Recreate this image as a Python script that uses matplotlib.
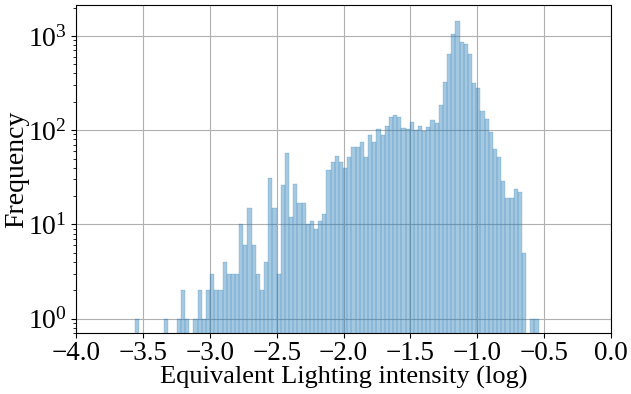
import numpy as np
import matplotlib
matplotlib.use('Agg')
from matplotlib import pyplot as plt

## bin range and counts (97 bins)
lo, hi = -3.560, -0.540
counts = [1, 0, 0, 0, 0, 0, 0, 1, 0, 0,
          1, 2, 1, 0, 1, 2, 1, 2, 3, 2,
          2, 4, 3, 3, 3, 10, 6, 15, 6, 3,
          2, 4, 31, 15, 3, 26, 57, 12, 27, 17,
          17, 10, 11, 9, 11, 13, 38, 46, 53, 46,
          40, 52, 67, 66, 75, 52, 88, 75, 102, 88,
          110, 137, 144, 137, 105, 102, 121, 100, 112, 97,
          108, 128, 118, 184, 322, 640, 1060, 1450, 870, 830,
          650, 315, 278, 158, 131, 95, 63, 52, 29, 19,
          19, 24, 22, 5, 0, 1, 1]
xticks = [-4.0, -3.5, -3.0, -2.5, -2.0, -1.5, -1.0, -0.5, 0.0]

plt.rcParams['font.family'] = ['Liberation Serif', 'DejaVu Serif']
plt.rcParams['mathtext.fontset'] = 'stix'

edges = np.linspace(lo, hi, len(counts) + 1)
centers = (edges[:-1] + edges[1:]) / 2

fig = plt.figure(figsize=(6.31, 3.94), dpi=100)
ax = fig.add_axes([0.121, 0.154, 0.847, 0.833])
ax.set_axisbelow(True)
ax.grid(True, color='#b0b0b0', linewidth=0.8)

ax.hist(centers, bins=edges, weights=counts, color='C0', alpha=0.4,
        edgecolor='C0', linewidth=0.35, log=True)

ax.set_xlim(-4, 0)
ax.set_ylim(0.7, 2120)
ax.set_xticks(xticks)
ax.tick_params(labelsize=20)
ax.tick_params(axis='x', labelsize=19.5, pad=2)
ax.set_xlabel('Equivalent Lighting intensity (log)', fontsize=19, labelpad=0)
ax.set_ylabel('Frequency', fontsize=20, labelpad=-1)

plt.savefig('out.png', dpi=100)
